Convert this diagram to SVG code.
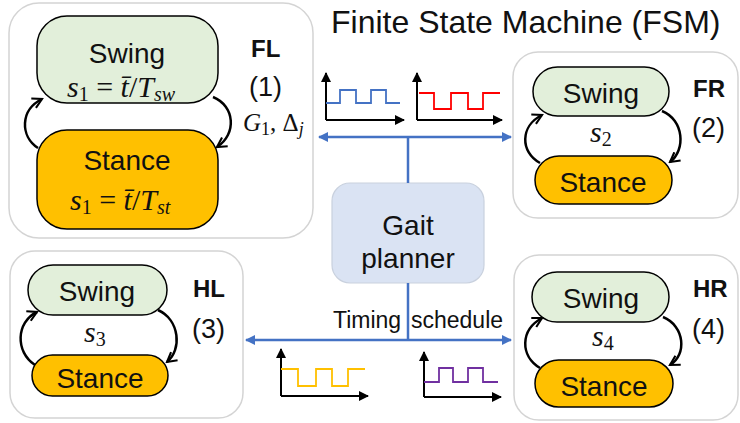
<svg xmlns="http://www.w3.org/2000/svg" width="740" height="423" viewBox="0 0 740 423">
<defs>
<style>
.panel{fill:#fff;stroke:#d4d4d4;stroke-width:1.5}
.swing{fill:#e2efda;stroke:#000;stroke-width:1.5}
.stance{fill:#ffc000;stroke:#000;stroke-width:1.5}
.lbl{font-family:"Liberation Sans",Arial,sans-serif;fill:#111}
.st{font-size:28px;text-anchor:middle}
.leg{font-family:"Liberation Sans",Arial,sans-serif;font-weight:bold;font-size:24px;fill:#111}
.num{font-family:"Liberation Sans",Arial,sans-serif;font-size:27px;fill:#111}
.math{font-family:"Liberation Serif","Times New Roman",serif;fill:#111}
.mi{font-style:italic}
.arc{fill:none;stroke:#000;stroke-width:2.5;marker-end:url(#chev)}
.blue{stroke:#4472c4;stroke-width:2.5;fill:none}
.axis{stroke:#000;stroke-width:2;fill:none;marker-end:url(#tri)}
.wave{fill:none;stroke-width:1.8}
</style>
<marker id="chev" viewBox="0 0 12 12" refX="10" refY="6" markerWidth="5" markerHeight="5" orient="auto" markerUnits="strokeWidth">
<path d="M1,1 L10,6 L1,11" fill="none" stroke="#000" stroke-width="2"/>
</marker>
<marker id="tri" viewBox="0 0 10 10" refX="9" refY="5" markerWidth="5" markerHeight="5" orient="auto" markerUnits="strokeWidth">
<path d="M0,0 L10,5 L0,10 z" fill="#000"/>
</marker>
<marker id="btri" viewBox="0 0 10 10" refX="9" refY="5" markerWidth="4.5" markerHeight="4" orient="auto-start-reverse" markerUnits="strokeWidth">
<path d="M0,0 L10,5 L0,10 z" fill="#4472c4"/>
</marker>
</defs>
<rect width="740" height="423" fill="#fff"/>

<text class="lbl" x="331" y="33" font-size="32">Finite State Machine (FSM)</text>

<!-- FL panel -->
<g id="panel-FL">
<rect class="panel" x="9" y="3" width="304" height="235" rx="30"/>
<g id="FL-swing">
<rect class="swing" x="37" y="16" width="181" height="87" rx="30"/>
<text class="lbl st" x="127" y="63">Swing</text>
<text class="math" x="67" y="97" font-size="30"><tspan class="mi">s</tspan><tspan font-size="20" dy="4">1</tspan><tspan dy="-4"> = </tspan><tspan class="mi">t̄</tspan><tspan>/</tspan><tspan class="mi">T</tspan><tspan class="mi" font-size="20" dy="4">sw</tspan></text>
</g>
<g id="FL-stance">
<rect class="stance" x="37" y="130" width="181" height="99" rx="30"/>
<text class="lbl st" x="127" y="170">Stance</text>
<text class="math" x="70" y="210" font-size="30"><tspan class="mi">s</tspan><tspan font-size="20" dy="4">1</tspan><tspan dy="-4"> = </tspan><tspan class="mi">t̄</tspan><tspan>/</tspan><tspan class="mi">T</tspan><tspan class="mi" font-size="20" dy="4">st</tspan></text>
</g>
<text class="leg" x="251" y="57">FL</text>
<text class="num" x="249" y="96">(1)</text>
<text class="math" x="243" y="131" font-size="25"><tspan class="mi">G</tspan><tspan font-size="18" dy="4">1</tspan><tspan dy="-4">, Δ</tspan><tspan class="mi" font-size="18" dy="4">j</tspan></text>
</g>

<!-- FR panel -->
<g id="panel-FR">
<rect class="panel" x="513" y="52" width="225" height="166" rx="25"/>
<g id="FR-swing">
<rect class="swing" x="533" y="67" width="136" height="49" rx="24.5"/>
<text class="lbl st" x="601" y="103">Swing</text>
</g>
<g id="FR-stance">
<rect class="stance" x="535" y="156" width="137" height="48" rx="24"/>
<text class="lbl st" x="603" y="192">Stance</text>
</g>
<text class="math" x="590" y="142" font-size="30"><tspan class="mi">s</tspan><tspan font-size="20" dy="4">2</tspan></text>
<text class="leg" x="693" y="97">FR</text>
<text class="num" x="692" y="137">(2)</text>
</g>

<!-- HL panel -->
<g id="panel-HL">
<rect class="panel" x="10" y="251" width="233" height="167" rx="25"/>
<g id="HL-swing">
<rect class="swing" x="28" y="265" width="139" height="50" rx="25"/>
<text class="lbl st" x="97" y="301">Swing</text>
</g>
<g id="HL-stance">
<rect class="stance" x="32" y="355" width="136" height="41" rx="20.5"/>
<text class="lbl st" x="100" y="388">Stance</text>
</g>
<text class="math" x="84" y="342" font-size="30"><tspan class="mi">s</tspan><tspan font-size="20" dy="4">3</tspan></text>
<text class="leg" x="193" y="297">HL</text>
<text class="num" x="192" y="338">(3)</text>
</g>

<!-- HR panel -->
<g id="panel-HR">
<rect class="panel" x="514" y="255" width="224" height="165" rx="25"/>
<g id="HR-swing">
<rect class="swing" x="532" y="272" width="137" height="50" rx="25"/>
<text class="lbl st" x="601" y="308">Swing</text>
</g>
<g id="HR-stance">
<rect class="stance" x="535" y="360" width="138" height="47" rx="23.5"/>
<text class="lbl st" x="604" y="396">Stance</text>
</g>
<text class="math" x="592" y="346" font-size="30"><tspan class="mi">s</tspan><tspan font-size="20" dy="4">4</tspan></text>
<text class="leg" x="693" y="297">HR</text>
<text class="num" x="692" y="338">(4)</text>
</g>

<!-- Gait planner -->
<g id="gait-planner">
<rect x="332" y="183" width="152" height="100" rx="18" fill="#dae3f3" stroke="#c9d1de" stroke-width="1.2"/>
<text class="lbl st" x="408" y="235">Gait</text>
<text class="lbl st" x="408" y="268">planner</text>
</g>

<!-- connectors -->
<g id="connectors">
<path class="arc" d="M38,148 C20,136 20,110 42,99"/>
<path class="arc" d="M213,97 C235,106 237,134 217,147"/>
<path class="arc" d="M540,163 C520,152 520,126 542,115"/>
<path class="arc" d="M662,111 C684,120 686,150 670,162"/>
<path class="arc" d="M35,365 C15,352 16,322 37,312"/>
<path class="arc" d="M158,310 C180,320 182,350 167,362"/>
<path class="arc" d="M540,368 C520,356 520,330 542,318"/>
<path class="arc" d="M663,317 C685,326 687,355 670,365"/>

<line class="blue" x1="408" y1="137" x2="408" y2="183"/>
<line class="blue" x1="319" y1="137" x2="511" y2="137" marker-start="url(#btri)" marker-end="url(#btri)"/>
<line class="blue" x1="408" y1="283" x2="408" y2="340"/>
<line class="blue" x1="246" y1="340" x2="511" y2="340" marker-start="url(#btri)" marker-end="url(#btri)"/>
</g>

<text class="lbl" x="333" y="328" font-size="23">Timing <tspan x="411">schedule</tspan></text>

<!-- signal plots -->
<g id="signal-FL">
<path class="axis" d="M326,120 L326,73"/>
<path class="axis" d="M326,120 L404,120"/>
<path class="wave" stroke="#4472c4" d="M326,103 H340 V90 H356 V103 H371 V90 H386 V103 H400"/>
</g>
<g id="signal-FR">
<path class="axis" d="M417,120 L417,73"/>
<path class="axis" d="M417,120 L502,120"/>
<path class="wave" stroke="#ff0000" d="M419,93 H434 V109 H451 V93 H468 V109 H483 V93 H500"/>
</g>
<g id="signal-HL">
<path class="axis" d="M281,396 L281,349"/>
<path class="axis" d="M281,396 L368,396"/>
<path class="wave" stroke="#ffc000" d="M281,369 H298 V386 H316 V369 H332 V386 H348 V369 H365"/>
</g>
<g id="signal-HR">
<path class="axis" d="M424,397 L424,352"/>
<path class="axis" d="M424,397 L501,397"/>
<path class="wave" stroke="#7030a0" d="M424,382 H439 V368 H453 V382 H468 V368 H483 V382 H498"/>
</g>
</svg>
